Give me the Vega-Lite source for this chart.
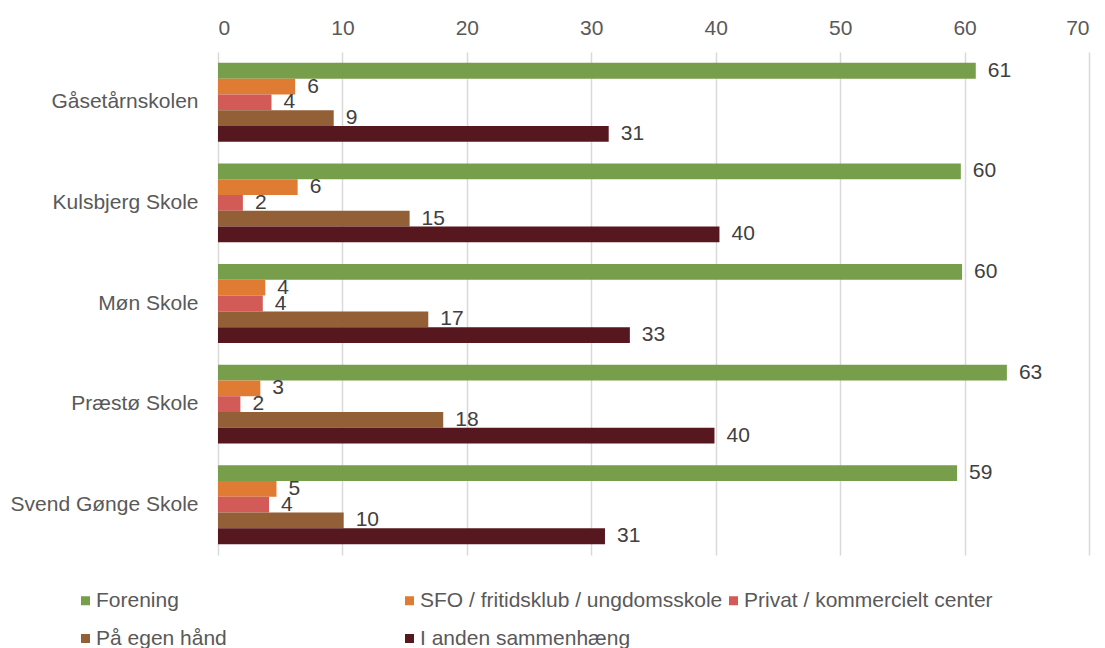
{
  "$schema": "https://vega.github.io/schema/vega-lite/v6.json",
  "width": 871,
  "height": 503,
  "autosize": {"type": "none"},
  "padding": {"left": 218, "top": 52, "right": 16, "bottom": 93},
  "config": {"font": "Liberation Sans", "view": {"stroke": null}},
  "data": {
    "values": [
      {"skole": "Gåsetårnskolen", "kategori": "Forening", "value": 60.9},
      {"skole": "Gåsetårnskolen", "kategori": "SFO / fritidsklub / ungdomsskole", "value": 6.2},
      {"skole": "Gåsetårnskolen", "kategori": "Privat / kommercielt center", "value": 4.3},
      {"skole": "Gåsetårnskolen", "kategori": "På egen hånd", "value": 9.3},
      {"skole": "Gåsetårnskolen", "kategori": "I anden sammenhæng", "value": 31.4},
      {"skole": "Kulsbjerg Skole", "kategori": "Forening", "value": 59.7},
      {"skole": "Kulsbjerg Skole", "kategori": "SFO / fritidsklub / ungdomsskole", "value": 6.4},
      {"skole": "Kulsbjerg Skole", "kategori": "Privat / kommercielt center", "value": 2.0},
      {"skole": "Kulsbjerg Skole", "kategori": "På egen hånd", "value": 15.4},
      {"skole": "Kulsbjerg Skole", "kategori": "I anden sammenhæng", "value": 40.3},
      {"skole": "Møn Skole", "kategori": "Forening", "value": 59.8},
      {"skole": "Møn Skole", "kategori": "SFO / fritidsklub / ungdomsskole", "value": 3.8},
      {"skole": "Møn Skole", "kategori": "Privat / kommercielt center", "value": 3.6},
      {"skole": "Møn Skole", "kategori": "På egen hånd", "value": 16.9},
      {"skole": "Møn Skole", "kategori": "I anden sammenhæng", "value": 33.1},
      {"skole": "Præstø Skole", "kategori": "Forening", "value": 63.4},
      {"skole": "Præstø Skole", "kategori": "SFO / fritidsklub / ungdomsskole", "value": 3.4},
      {"skole": "Præstø Skole", "kategori": "Privat / kommercielt center", "value": 1.8},
      {"skole": "Præstø Skole", "kategori": "På egen hånd", "value": 18.1},
      {"skole": "Præstø Skole", "kategori": "I anden sammenhæng", "value": 39.9},
      {"skole": "Svend Gønge Skole", "kategori": "Forening", "value": 59.4},
      {"skole": "Svend Gønge Skole", "kategori": "SFO / fritidsklub / ungdomsskole", "value": 4.7},
      {"skole": "Svend Gønge Skole", "kategori": "Privat / kommercielt center", "value": 4.1},
      {"skole": "Svend Gønge Skole", "kategori": "På egen hånd", "value": 10.1},
      {"skole": "Svend Gønge Skole", "kategori": "I anden sammenhæng", "value": 31.1}
    ]
  },
  "encoding": {
    "y": {
      "field": "skole",
      "type": "nominal",
      "sort": ["Gåsetårnskolen", "Kulsbjerg Skole", "Møn Skole", "Præstø Skole", "Svend Gønge Skole"],
      "scale": {"paddingInner": 0.216, "paddingOuter": 0.108},
      "axis": {"title": null, "domain": false, "ticks": false, "labelPadding": 20, "labelFontSize": 21, "labelColor": "#595959", "labelLimit": 0}
    },
    "yOffset": {
      "field": "kategori",
      "type": "nominal",
      "sort": ["Forening", "SFO / fritidsklub / ungdomsskole", "Privat / kommercielt center", "På egen hånd", "I anden sammenhæng"],
      "scale": {"paddingInner": 0, "paddingOuter": 0}
    },
    "x": {
      "field": "value",
      "type": "quantitative",
      "scale": {"domain": [0, 70]},
      "axis": {
        "orient": "top",
        "title": null,
        "values": [0, 10, 20, 30, 40, 50, 60, 70],
        "grid": true,
        "gridColor": "#d9d9d9",
        "gridWidth": 1.5,
        "domain": false,
        "ticks": false,
        "labelFontSize": 21,
        "labelColor": "#595959",
        "labelPadding": 14
      }
    }
  },
  "layer": [
    {
      "mark": {"type": "bar"},
      "encoding": {
        "color": {
          "field": "kategori",
          "type": "nominal",
          "sort": ["Forening", "SFO / fritidsklub / ungdomsskole", "Privat / kommercielt center", "På egen hånd", "I anden sammenhæng"],
          "scale": {
            "domain": ["Forening", "SFO / fritidsklub / ungdomsskole", "Privat / kommercielt center", "På egen hånd", "I anden sammenhæng"],
            "range": ["#779e4a", "#df7b32", "#d25b58", "#925f37", "#57171f"]
          },
          "legend": {
            "title": null,
            "orient": "none",
            "legendX": -143,
            "legendY": 538,
            "direction": "horizontal",
            "columns": 3,
            "gridAlign": "all",
            "columnPadding": -2,
            "rowPadding": 16,
            "symbolType": "square",
            "symbolSize": 81,
            "symbolStrokeWidth": 0,
            "labelFontSize": 21,
            "labelColor": "#595959",
            "labelOffset": 0,
            "labelLimit": 0
          }
        }
      }
    },
    {
      "mark": {"type": "text", "align": "left", "baseline": "middle", "dx": 12, "fontSize": 21, "color": "#404040"},
      "encoding": {
        "text": {"field": "value", "type": "quantitative", "format": ".0f"}
      }
    }
  ]
}
